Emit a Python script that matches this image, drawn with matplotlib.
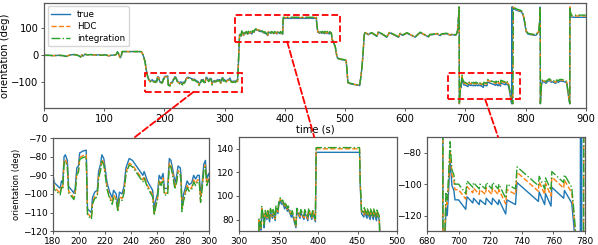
import numpy as np
import matplotlib
matplotlib.use("Agg")
import matplotlib.pyplot as plt
from matplotlib.patches import Rectangle, ConnectionPatch

# ---------------- data ----------------
# segment A: 0-178 s
t_A = [0, 8, 15, 25, 32, 35, 38, 41, 45, 50, 55, 58, 61, 63, 65, 68, 72, 78, 84, 90,
       96, 100, 104, 107, 111, 116, 120, 122, 123.5, 125, 127, 128.5, 130, 140, 150, 160, 162, 164, 166, 168,
       170, 172, 174, 176, 178]
true_A = [0, 0, -1, 0, -1, -3, -4, 0, 2, 3, 1, -2, -6, 2, -3, 4, 2, 3, 1, 2,
          0, 2, 1, -2, 0, 1, 3, 13, 8, -2, -9, 0, 14, 14, 14, 14, 13, 4, -8, -25,
          -55, -75, -88, -96, -93]
hdc_A = [0, 0, -1, 0, -1, -3, -4, 0, 2, 3, 1, -2, -6, 2, -3, 4, 2, 3, 1, 2,
         0, 2, 1, -2, 0, 1, 3, 13, 8, -2, -9, 0, 14, 14, 14, 14, 13, 4, -8, -26,
         -56, -77, -90, -98, -95]
int_A = [0, 0, -1, 0, -1, -3, -4, 0, 2, 3, 1, -2, -6, 2, -3, 4, 2, 3, 1, 2,
         0, 2, 1, -2, 0, 1, 3, 13, 8, -2, -9, 0, 14, 14, 14, 14, 13, 4, -8, -26,
         -57, -78, -91, -99, -96]

# segment B: 180-324 s
t_B = [180, 181, 184, 185.5, 186.5, 187.5, 188.5, 189.5, 191, 192,
       195, 196, 197, 198.3, 199.5, 200.5, 203, 205.5, 206.5, 208,
       209.5, 210.3, 212, 214, 215, 216.5, 217.5, 219, 220, 221.5,
       223.5, 225.5, 226.5, 228.5, 229.8, 231, 233, 234.5, 236, 238.5,
       241, 249, 250, 252.5, 254, 256.5, 257.7, 259, 260.2, 261.5,
       263, 264.5, 265.5, 268, 269.3, 270.5, 272, 273.6, 275, 276,
       277.7, 278.3, 279, 280.3, 281.5, 283, 284.5, 286.5, 288, 289.5,
       291, 292.3, 293.3, 294.5, 295.8, 297, 298, 299.5, 301, 303,
       305, 307, 309, 310.5, 313, 316, 318, 320, 321.5, 322.8,
       324]
true_B = [-90, -94, -96, -97, -93, -94, -80, -79, -82, -96,
          -98.5, -99.5, -97, -86, -85, -78, -77, -76.5, -108, -109,
          -110, -102, -99, -98, -88, -84, -79, -81, -86, -94,
          -99, -102, -98, -100, -106, -99, -100, -96, -86, -81,
          -82, -90, -88, -93, -95, -98, -108, -103, -100, -90,
          -92, -89, -97, -97, -81, -82, -87, -94, -90, -85,
          -86, -90, -106, -100, -97, -93, -95, -94, -90, -92,
          -90, -90, -101, -94, -84, -82, -92, -89, -93, -95,
          -91, -89, -84, -94, -97, -95, -97, -92, -95, -40,
          30]
hdc_B = [-92.5, -96.5, -98.5, -99.5, -95.5, -96.5, -82.5, -81.5, -84.5, -98.5,
         -101, -102, -99.5, -88.5, -87.5, -80.5, -79.5, -79, -110.5, -111.5,
         -112.5, -104.5, -101.5, -100.5, -90.5, -86.5, -81.5, -83.5, -88.5, -96.5,
         -101.5, -104.5, -100.5, -102.5, -108.5, -101.5, -102.5, -98.5, -88.5, -83.5,
         -84.5, -92.5, -90.5, -95.5, -97.5, -100.5, -110.5, -105.5, -102.5, -92.5,
         -94.5, -91.5, -99.5, -99.5, -83.5, -84.5, -89.5, -96.5, -92.5, -87.5,
         -88.5, -92.5, -108.5, -102.5, -99.5, -95.5, -97.5, -96.5, -92.5, -94.5,
         -92.5, -92.5, -103.5, -96.5, -86.5, -84.5, -94.5, -91.5, -95.5, -97.5,
         -93.5, -91.5, -86.5, -96.5, -99.5, -97.5, -99.5, -94.5, -97.5, -40,
         32]
int_B = [-93.5, -97.5, -99.5, -100.5, -96.5, -97.5, -83.5, -82.5, -85.5, -99.5,
         -102, -103, -100.5, -89.5, -88.5, -81.5, -80.5, -80, -111.5, -112.5,
         -113.5, -105.5, -102.5, -101.5, -91.5, -87.5, -82.5, -84.5, -89.5, -97.5,
         -102.5, -105.5, -101.5, -103.5, -109.5, -102.5, -103.5, -99.5, -89.5, -84.5,
         -85.5, -93.5, -91.5, -96.5, -98.5, -101.5, -111.5, -106.5, -103.5, -93.5,
         -95.5, -92.5, -100.5, -100.5, -84.5, -85.5, -90.5, -97.5, -93.5, -88.5,
         -89.5, -93.5, -109.5, -103.5, -100.5, -96.5, -98.5, -97.5, -93.5, -95.5,
         -93.5, -93.5, -104.5, -97.5, -87.5, -85.5, -95.5, -92.5, -96.5, -98.5,
         -94.5, -92.5, -87.5, -97.5, -100.5, -98.5, -100.5, -95.5, -98.5, -40,
         33]

# segment C: 325-478.5 s
t_C = [325, 326.5, 327.5, 328.5, 330.5, 331.5, 332.8, 335, 336, 338.5,
       339.5, 342, 343, 345.5, 346.5, 349, 350, 352, 353.5, 355,
       357.5, 358.5, 361, 362, 366, 367, 371.8, 373, 377, 378,
       382, 383, 387, 388, 392, 393, 396.5, 397.5, 425, 452.5,
       453.3, 454, 455, 458, 458.5, 462, 462.5, 466, 466.5, 470,
       470.5, 474, 474.5, 477.5, 478.5]
true_C = [78, 75, 71, 88, 80, 73, 85, 80, 86, 78,
          87, 81, 86, 79, 89, 85, 92, 96, 93, 94,
          89, 92, 87, 89, 82, 85, 73, 87, 81, 86,
          80, 86, 79, 87, 80, 86, 78, 137, 137, 137,
          110, 100, 85, 82, 87, 81, 86, 80, 86, 80,
          86, 79, 85, 80, 58]
hdc_C = [79.5, 76.5, 72.5, 89.5, 81.5, 74.5, 86.5, 81.5, 87.5, 79.5,
         88.5, 82.5, 87.5, 80.5, 90.5, 86.5, 93.5, 97.5, 94.5, 95.5,
         90.5, 93.5, 88.5, 90.5, 83.5, 86.5, 74.5, 88.5, 82.5, 87.5,
         81.5, 87.5, 80.5, 88.5, 81.5, 87.5, 79.5, 140, 140, 140,
         112, 102, 87, 84, 89, 83, 88, 82, 88, 82,
         88, 81, 87, 82, 59]
int_C = [80.5, 77.5, 73.5, 91, 82.5, 75.5, 87.5, 82.5, 88.5, 80.5,
         89.5, 83.5, 88.5, 81.5, 91.5, 87.5, 94.5, 98.5, 95.5, 96.5,
         91.5, 94.5, 89.5, 91.5, 84.5, 87.5, 75.5, 89.5, 83.5, 88.5,
         82.5, 88.5, 81.5, 89.5, 82.5, 88.5, 80.5, 141, 141, 141,
         113, 103, 88, 85, 90, 84, 89, 83, 89, 83,
         89, 82, 88, 83, 60]

# segment F: 479.5-689.8 s
t_F = [479.5, 482, 484, 486, 488, 492, 497, 502, 503.5, 505,
       510, 515, 520, 524.5, 526.5, 528.5, 530.5, 532, 533.5, 539,
       541, 544.8, 553, 555.8, 569.6, 574, 589, 591.8, 596, 603,
       616.7, 625, 638.8, 641, 644.4, 652.7, 658, 661, 669.2, 675,
       677.5, 684, 685.8, 687.5, 689, 689.8]
true_F = [55, 42, 30, 2, -12, -15, -17, -19, -60, -102,
          -106, -108, -110, -112, -80, -40, 20, 75, 84, 76,
          80, 82, 70, 86, 67, 84, 67, 80, 74, 82,
          67, 84, 68, 76, 76, 80, 73, 78, 80, 74,
          77, 74, 80, 95, 150, 179]
hdc_F = [56, 43, 31, 3, -11, -14, -16, -18, -59, -101,
         -105, -107, -109, -111, -79, -39, 21, 76, 85, 77,
         81, 83, 71, 87, 68, 85, 68, 81, 75, 83,
         68, 85, 69, 77, 77, 81, 74, 79, 81, 75,
         78, 75, 81, 97, 153, 179]
int_F = [57, 44, 32, 4, -10, -13, -15, -17, -58, -100,
         -104, -106, -108, -110, -78, -38, 22, 77, 86, 78,
         82, 84, 72, 88, 69, 86, 69, 82, 76, 84,
         69, 86, 70, 78, 78, 82, 75, 80, 82, 76,
         79, 76, 82, 98, 155, 179]

# segment G: 690.1-777 s
t_G = [690.1, 691, 692, 692.8, 693.6, 694.6, 695.8, 697, 697.7, 700,
       704.5, 705.3, 709, 709.5, 713, 713.5, 717, 717.5, 721, 721.5,
       725, 725.5, 729.8, 730.6, 736, 737, 750.5, 751, 754.5, 755,
       758.5, 759, 766.5, 767, 771.6, 772.8, 774, 776, 777.0]
true_G = [-179, -150, -115, -120, -106, -84, -101, -104, -110, -110,
          -116, -108, -112, -109, -113, -110, -113, -109, -113, -109,
          -113, -110, -119, -110, -113, -99, -111, -105, -113, -106,
          -114, -102, -109, -104, -112, -125, -140, -170, -179]
hdc_G = [-179, -145, -109, -113, -99, -78, -94, -97.5, -103.5, -103.5,
         -109.5, -101.5, -105.5, -102.5, -106.5, -103.5, -106.5, -102.5, -106.5, -102.5,
         -106.5, -103.5, -112.5, -103.5, -106.5, -92.5, -104.5, -98.5, -106.5, -99.5,
         -107.5, -95.5, -102.5, -97.5, -105.5, -118, -133, -160, -168]
int_G = [-179, -142, -105, -110, -96, -73, -91, -94, -100, -100,
         -106, -98, -102, -99, -103, -100, -103, -99, -103, -99,
         -103, -100, -109, -100, -103, -89, -101, -95, -103, -96,
         -104, -92, -99, -94, -102, -115, -130, -158, -166]

# segment H: 777.3-900 s
t_H = [777.3, 777.8, 778.3, 779.0, 779.7, 781, 785, 790, 793, 795,
       797, 799, 801, 804, 810, 815, 818, 820, 822, 823.5,
       824.5, 824.7, 825.5, 826.5, 828, 832, 834, 836, 840, 843,
       845, 850, 852, 855, 857, 862, 866, 868.5, 870, 872,
       873.5, 873.7, 874.5, 875.5, 880, 890, 900]
true_H = [179, -179, 179, 172, 170, 172, 167, 163, 161, 155,
          140, 115, 88, 79, 76, 74, 75, 82, 87, 120,
          179, -179, -150, -110, -97, -100, -104, -98, -93, -100,
          -98, -104, -97, -100, -95, -96, -99, -103, -130, -160,
          -179, 179, 160, 142, 141, 141, 141]
hdc_H = [-172, -175, -177, -179, 179, 175, 170, 166, 164, 158,
         143, 118, 90, 81, 78, 76, 77, 84, 89, 125,
         179, -179, -146, -106, -93, -96, -100, -94, -89, -96,
         -94, -100, -93, -96, -91, -92, -95, -99, -126, -157,
         -179, 179, 163, 146, 146, 146, 146]
int_H = [-170, -173, -176, -179, 179, 177, 172, 168, 166, 160,
         145, 120, 91, 82, 79, 77, 78, 85, 90, 128,
         179, -179, -144, -104, -91, -94, -98, -92, -87, -94,
         -92, -98, -91, -94, -89, -90, -93, -97, -124, -155,
         -179, 179, 165, 149, 149, 149, 149]

time_s = np.concatenate([t_A, t_B, t_C, t_F, t_G, t_H])
true_deg = np.concatenate([true_A, true_B, true_C, true_F, true_G, true_H])
hdc_deg = np.concatenate([hdc_A, hdc_B, hdc_C, hdc_F, hdc_G, hdc_H])
int_deg = np.concatenate([int_A, int_B, int_C, int_F, int_G, int_H])

series_labels = ["true", "HDC", "integration"]

# zoom windows: (main rectangle x0, x1, y0, y1), (inset xlim), (inset ylim)
rects = [(168, 329, -136, -65), (317, 492, 51, 149), (671, 791, -163, -66)]
inset_xlim = [(180, 300), (300, 500), (680, 780)]
inset_ylim = [(-120, -70), (70, 150), (-130, -70)]
inset_xticks = [[180, 200, 220, 240, 260, 280, 300],
                [300, 350, 400, 450, 500],
                [680, 700, 720, 740, 760, 780]]
inset_yticks = [[-120, -110, -100, -90, -80, -70], [80, 100, 120, 140], [-120, -100, -80]]
links = [((248, -136), (242, -70)), ((404, 51), (395, 150)), ((733, -163), (725, -70))]

# ---------------- drawing ----------------
W, H = 598, 245
fig = plt.figure(figsize=(W / 100, H / 100), dpi=100)

def box(l, r, t, b):
    return [l / W, 1 - b / H, (r - l) / W, (b - t) / H]

ax = fig.add_axes(box(44, 585.7, 2.7, 108))
subs = [fig.add_axes(box(53, 209.3, 138, 231.3)),
        fig.add_axes(box(239.3, 397, 137, 231.3)),
        fig.add_axes(box(427, 585, 137, 231.3))]

styles = [dict(color="#1f77b4", ls="-"), dict(color="#ff7f0e", ls="--"),
          dict(color="#2ca02c", ls="-.")]
ys = [true_deg, hdc_deg, int_deg]

spine_col = "0.35"
for a in [ax] + subs:
    for s in a.spines.values():
        s.set_color(spine_col)
        s.set_linewidth(0.9)
    a.tick_params(length=2.5, width=0.7, color=spine_col, pad=1.5)

for y, st, lab in zip(ys, styles, series_labels):
    ax.plot(time_s, y, lw=1.0, label=lab, **st)
ax.set_xlim(0, 900)
ax.set_ylim(-195, 195)
ax.set_xticks(range(0, 901, 100))
ax.set_yticks([-100, 0, 100])
ax.tick_params(labelsize=7.2)
ax.set_xlabel("time (s)", fontsize=7.2, labelpad=1)
ax.set_ylabel("orientation (deg)", fontsize=7.2, labelpad=1)
leg = ax.legend(loc="upper left", fontsize=6.3, labelspacing=0.35,
                borderaxespad=0.4, handlelength=2.2, framealpha=0.8)

for (x0, x1, y0, y1) in rects:
    ax.add_patch(Rectangle((x0, y0), x1 - x0, y1 - y0, fill=False,
                           edgecolor="red", ls="--", lw=1.3, zorder=5, clip_on=False))

for i, a in enumerate(subs):
    for y, st in zip(ys, styles):
        a.plot(time_s, y, lw=1.0, **st)
    a.set_xlim(*inset_xlim[i])
    a.set_ylim(*inset_ylim[i])
    a.set_xticks(inset_xticks[i])
    a.set_yticks(inset_yticks[i])
    a.tick_params(labelsize=6.5)
subs[0].set_ylabel("orientation (deg)", fontsize=6, labelpad=1)

for (pA, pB), a in zip(links, subs):
    con = ConnectionPatch(xyA=pA, coordsA=ax.transData, xyB=pB, coordsB=a.transData,
                          color="red", ls="--", lw=1.3, zorder=10)
    fig.add_artist(con)

fig.savefig("out.png", dpi=100)
